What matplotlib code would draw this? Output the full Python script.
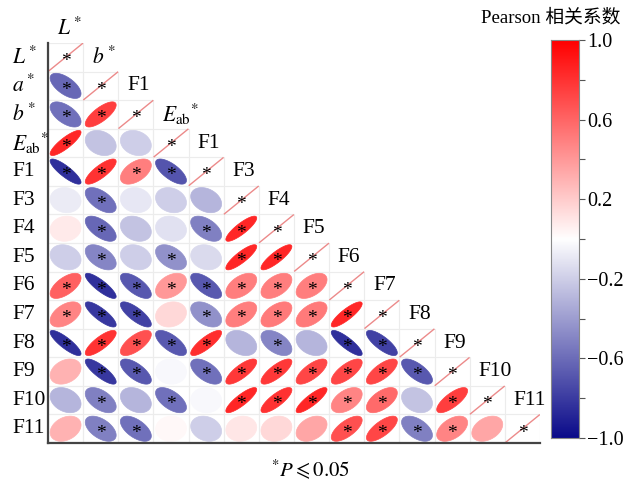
import numpy as np
import matplotlib
matplotlib.use("Agg")
import matplotlib.pyplot as plt
from matplotlib.colors import LinearSegmentedColormap
from matplotlib.patches import Polygon, Rectangle

plt.rcParams['font.family'] = ['Liberation Serif', 'Noto Sans CJK SC']
plt.rcParams['mathtext.fontset'] = 'stix'

# row labels (left side) and labels written along the diagonal
row_labels = [r'$L^*$', r'$a^*$', r'$b^*$', r'$E_{\mathrm{ab}}{}^{*}$', 'F1', 'F3', 'F4',
              'F5', 'F6', 'F7', 'F8', 'F9', 'F10', 'F11']
diag_labels = [r'$L^*$', r'$b^*$', 'F1', r'$E_{\mathrm{ab}}{}^{*}$', 'F1', 'F3', 'F4',
               'F5', 'F6', 'F7', 'F8', 'F9', 'F10', 'F11']

# lower triangle of the Pearson matrix, one list per row
r_lower = [
    [],
    [-0.62],
    [-0.58, 0.75],
    [0.85, -0.25, -0.20],
    [-0.85, 0.80, 0.50, -0.70],
    [-0.08, -0.58, -0.10, -0.20, -0.30],
    [0.08, -0.62, -0.25, -0.12, -0.52, 0.85],
    [-0.20, -0.50, -0.20, -0.45, -0.15, 0.85, 0.85],
    [0.62, -0.85, -0.68, 0.40, -0.68, 0.50, 0.50, 0.50],
    [0.48, -0.82, -0.78, 0.15, -0.45, 0.50, 0.52, 0.52, 0.85],
    [-0.85, 0.80, 0.68, -0.68, 0.82, -0.30, -0.50, -0.30, -0.85, -0.78],
    [0.30, -0.82, -0.68, -0.03, -0.58, 0.78, 0.78, 0.72, 0.72, 0.72, -0.68],
    [-0.30, -0.52, -0.30, -0.58, -0.03, 0.85, 0.80, 0.85, 0.48, 0.58, -0.25, 0.75],
    [0.30, -0.52, -0.58, 0.03, -0.20, 0.10, 0.15, 0.35, 0.68, 0.72, -0.52, 0.48, 0.35],
]
# 1 = significant (P <= 0.05)
sig_lower = [
    [],
    [1],
    [1, 1],
    [1, 0, 0],
    [1, 1, 1, 1],
    [0, 1, 0, 0, 0],
    [0, 1, 0, 0, 1, 1],
    [0, 1, 0, 1, 0, 1, 1],
    [1, 1, 1, 1, 1, 1, 1, 1],
    [1, 1, 1, 0, 1, 1, 1, 1, 1],
    [1, 1, 1, 1, 1, 0, 1, 0, 1, 1],
    [0, 1, 1, 0, 1, 1, 1, 1, 1, 1, 1],
    [0, 1, 0, 1, 0, 1, 1, 1, 1, 1, 0, 1],
    [0, 1, 1, 0, 0, 0, 0, 0, 1, 1, 1, 1, 0],
]

n = len(row_labels)
cmap = LinearSegmentedColormap.from_list('bwr2', ['#0B0B8A', '#FFFFFF', '#FF0000'])

W, H = 624, 490
fig = plt.figure(figsize=(W / 100, H / 100), dpi=100)
ax = fig.add_axes([48 / W, 1 - 443 / H, 492 / W, 400 / H])
ax.set_xlim(0, n)
ax.set_ylim(n, 0)
ax.set_xticks([])
ax.set_yticks([])
for s in ['top', 'right']:
    ax.spines[s].set_visible(False)
for s in ['left', 'bottom']:
    ax.spines[s].set_color('#444444')
    ax.spines[s].set_linewidth(1.6)

t = np.linspace(0, 2 * np.pi, 100)


def ellipse(cx, cy, r, scale=0.44):
    a = np.arccos(r) / 2
    x = cx + scale * np.cos(t + a)
    y = cy - scale * np.cos(t - a)
    return np.column_stack([x, y])


for i in range(n):
    for j in range(i + 1):
        ax.add_patch(Rectangle((j, i), 1, 1, fill=False, ec='#ececec', lw=0.8, zorder=1))
        cx, cy = j + 0.5, i + 0.5
        if i == j:
            ax.plot([j + 0.02, j + 0.98], [i + 0.98, i + 0.02], color='#ec8a8a', lw=1.0, zorder=2)
            star = True
        else:
            r = r_lower[i][j]
            ax.add_patch(Polygon(ellipse(cx, cy, r), closed=True, fc=cmap((r + 1) / 2),
                                 ec=cmap((r + 1) / 2), lw=0.5, zorder=2))
            star = sig_lower[i][j] == 1
        if star:
            ax.text(cx, cy + 0.15, '*', ha='center', va='center', fontsize=14, zorder=3)

# labels
for i, lab in enumerate(row_labels):
    ax.text(-36 / 35.1, i + 0.5, lab, ha='left', va='center', fontsize=15.5, clip_on=False)
for j, lab in enumerate(diag_labels):
    ax.text(j + 0.25, j - 0.5, lab, ha='left', va='center', fontsize=15.5, clip_on=False)

# colour bar
cax = fig.add_axes([551 / W, 1 - 438 / H, 28 / W, 398 / H])
grad = np.linspace(-1, 1, 256).reshape(-1, 1)
cax.imshow(grad, cmap=cmap, vmin=-1, vmax=1, aspect='auto', origin='lower',
           extent=[0, 1, -1, 1])
cax.set_xticks([])
cax.yaxis.tick_right()
cax.set_yticks([1.0, 0.6, 0.2, -0.2, -0.6, -1.0])
cax.set_yticklabels(['1.0', '0.6', '0.2', '\u22120.2', '\u22120.6', '\u22121.0'], fontsize=14.5)
cax.set_yticks([0.8, 0.4, 0.0, -0.4, -0.8], minor=True)
cax.tick_params(axis='y', which='both', length=4, width=0.8, color='#555555', pad=2)
for s in cax.spines.values():
    s.set_color('#888888')
    s.set_linewidth(0.8)

fig.text(620 / W, 1 - 18 / H, 'Pearson 相关系数', ha='right', va='center', fontsize=13.5)
fig.text(310 / W, 1 - 470 / H, r'$^{*}P\leqslant 0.05$', ha='center', va='center', fontsize=15)

fig.savefig('out.png', dpi=100)
